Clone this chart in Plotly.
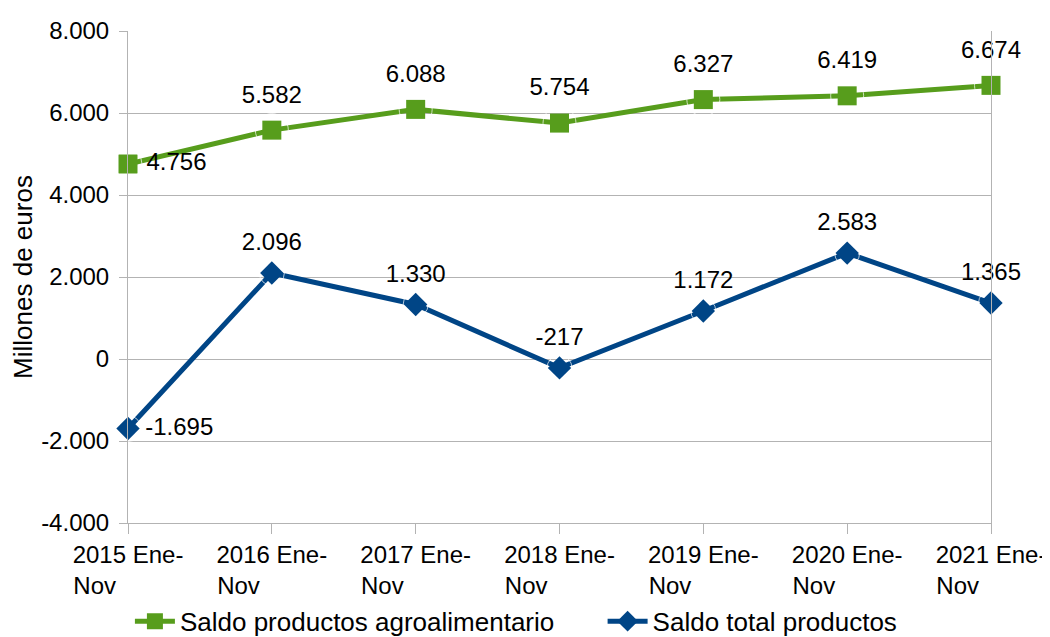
import plotly.graph_objects as go

categories = ["2015 Ene-Nov", "2016 Ene-Nov", "2017 Ene-Nov", "2018 Ene-Nov",
              "2019 Ene-Nov", "2020 Ene-Nov", "2021 Ene-Nov"]
agro = [4756, 5582, 6088, 5754, 6327, 6419, 6674]
total = [-1695, 2096, 1330, -217, 1172, 2583, 1365]
y_tickvals = [-4000, -2000, 0, 2000, 4000, 6000, 8000]
y_ticktext = ["-4.000", "-2.000", "0", "2.000", "4.000", "6.000", "8.000"]

GREEN = "#579d1c"
BLUE = "#004586"
GRID = "#b3b3b3"
FONT = "Liberation Sans, Arial, sans-serif"


def fmt(v):
    s = f"{abs(v):,}".replace(",", ".")
    return ("-" if v < 0 else "") + s


def tick_label(c):
    year, per = c.split(" ")
    first, second = per.split("-")
    return f"{year} {first}-<br>{second}" + "\u00a0" * 10


xpos = list(range(len(categories)))
xlabels = [tick_label(c) for c in categories]

fig = go.Figure()
series = [
    ("Saldo productos agroalimentario", agro, GREEN, "square", 19, (28, 33), 6),
    ("Saldo total productos", total, BLUE, "diamond", 18, (26, 25), 0),
]
for name, vals, color, sym, msize, lsize, pad in series:
    fig.add_trace(go.Scatter(
        x=xpos, y=vals, mode="lines+markers", name=name + "\u00a0" * pad,
        line=dict(color=color, width=5),
        marker=dict(symbol=sym, size=msize, color=color),
        cliponaxis=False,
    ))
for name, vals, color, sym, msize, lsize, pad in series:
    fig.add_trace(go.Scatter(
        x=xpos, y=vals, mode="markers+text", showlegend=False, hoverinfo="skip",
        marker=dict(symbol="circle", size=[lsize[0]] + [lsize[1]] * (len(vals) - 1),
                    color="rgba(0,0,0,0)"),
        text=[fmt(v) for v in vals],
        textposition=["middle right"] + ["top center"] * (len(vals) - 1),
        textfont=dict(family=FONT, size=24, color="black"),
        cliponaxis=False,
    ))

fig.update_layout(
    width=1042, height=629,
    margin=dict(l=120, r=59, t=23, b=114, autoexpand=False),
    paper_bgcolor="white", plot_bgcolor="white",
    font=dict(family=FONT, size=24, color="black"),
    showlegend=True,
    legend=dict(
        orientation="h", xref="container", yref="container",
        x=0.117, xanchor="left", y=0.025, yanchor="middle",
        font=dict(family=FONT, size=26, color="black"),
        itemwidth=40, traceorder="normal",
    ),
)
fig.update_xaxes(
    range=[0, len(categories) - 1],
    tickmode="array", tickvals=xpos, ticktext=xlabels,
    showgrid=False, zeroline=False, automargin=False,
    showline=True, linecolor=GRID, linewidth=1,
    ticks="outside", ticklen=10, tickcolor=GRID,
    tickangle=0,
    tickfont=dict(family=FONT, size=24, color="black"),
)
fig.update_yaxes(
    range=[-4000, 8000],
    tickmode="array", tickvals=y_tickvals, ticktext=y_ticktext,
    showgrid=True, gridcolor=GRID, gridwidth=1,
    zeroline=False, automargin=False,
    showline=True, linecolor=GRID, linewidth=1, mirror=True,
    ticks="outside", ticklen=8, tickcolor=GRID, ticklabelstandoff=5,
    tickfont=dict(family=FONT, size=24, color="black"),
    title=dict(text="Millones de euros", font=dict(family=FONT, size=26, color="black"), standoff=2),
)

fig.write_html("out.html")
